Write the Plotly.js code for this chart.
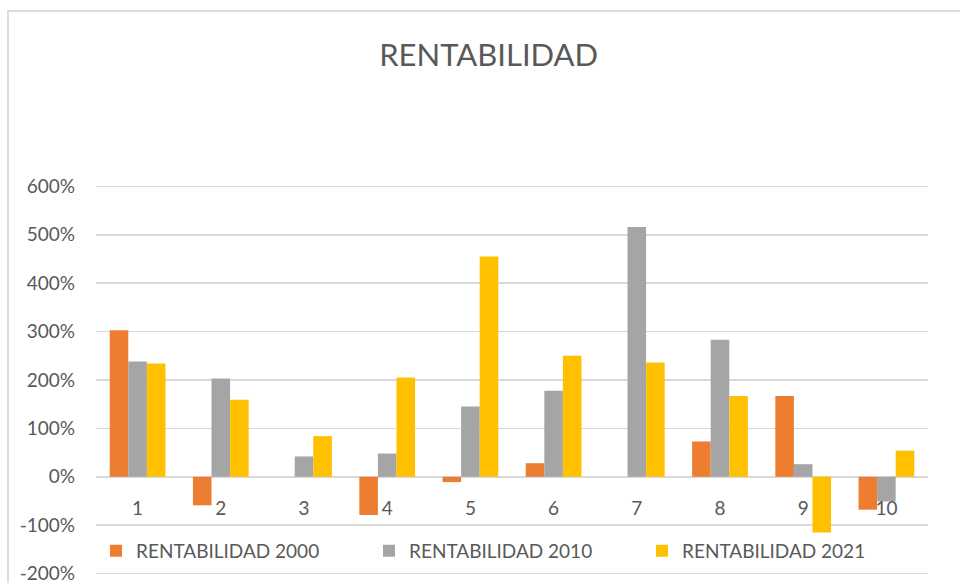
<!DOCTYPE html>
<html>
<head>
<meta charset="utf-8">
<script src="https://cdn.plot.ly/plotly-3.0.1.min.js"></script>
<style>
  html, body { margin: 0; padding: 0; background: #fff; overflow: hidden; width: 960px; height: 583px; }
  #frame { position: absolute; left: 7px; top: 10px; width: 980px; height: 600px; border: 2px solid #DCDCDC; box-sizing: border-box; }
  #chart { position: absolute; left: 0; top: 0; width: 960px; height: 583px; }
</style>
</head>
<body>
<div id="frame"></div>
<div id="chart"></div>
<script>
const categories = ['1', '2', '3', '4', '5', '6', '7', '8', '9', '10'];
const rent2000 = [3.03, -0.59, 0.0, -0.79, -0.11, 0.28, 0.0, 0.73, 1.67, -0.68];
const rent2010 = [2.38, 2.03, 0.42, 0.48, 1.45, 1.78, 5.16, 2.83, 0.26, -0.51];
const rent2021 = [2.34, 1.59, 0.84, 2.05, 4.55, 2.50, 2.36, 1.67, -1.15, 0.54];
const seriesNames = ['RENTABILIDAD 2000', 'RENTABILIDAD 2010', 'RENTABILIDAD 2021'];
const yTicks = [-2, -1, 0, 1, 2, 3, 4, 5, 6];
const yTickLabels = ['-200%', '-100%', '0%', '100%', '200%', '300%', '400%', '500%', '600%'];

const colors = ['#ED7D31', '#A5A5A5', '#FFC000'];
const txt = '#595959';
const fontFam = 'Lato, "Open Sans", sans-serif';

const data = [rent2000, rent2010, rent2021].map((vals, i) => ({
  type: 'bar',
  name: seriesNames[i],
  x: categories,
  y: vals,
  marker: { color: colors[i], line: { width: 0 } },
  hoverinfo: 'x+y+name'
}));

const yMin = -2.03, yMax = 6.03;

const layout = {
  width: 960,
  height: 583,
  paper_bgcolor: 'rgba(0,0,0,0)',
  plot_bgcolor: 'rgba(0,0,0,0)',
  margin: { l: 96, r: 32, t: 184.5, b: 7.5, autoexpand: false },
  title: {
    text: 'RENTABILIDAD',
    font: { family: fontFam, size: 31, color: txt },
    x: 0.509, xanchor: 'center',
    y: 0.905, yanchor: 'middle'
  },
  barmode: 'group',
  bargap: 0.33,
  bargroupgap: 0,
  font: { family: fontFam, color: txt, size: 19 },
  xaxis: {
    type: 'category',
    anchor: 'free',
    position: -yMin / (yMax - yMin),
    showgrid: false,
    showline: false,
    zeroline: false,
    ticks: '',
    ticklabelstandoff: 18,
    ticklabeloverflow: 'allow',
    tickfont: { family: fontFam, size: 19, color: txt }
  },
  yaxis: {
    range: [yMin, yMax],
    tickvals: yTicks,
    ticktext: yTickLabels,
    showgrid: true,
    gridcolor: '#D9D9D9',
    gridwidth: 1.5,
    zeroline: true,
    zerolinecolor: '#D9D9D9',
    zerolinewidth: 1.5,
    showline: false,
    ticks: '',
    ticklabelstandoff: 20,
    ticklabeloverflow: 'allow',
    tickfont: { family: fontFam, size: 19, color: txt }
  },
  legend: {
    orientation: 'h',
    x: 0, xanchor: 'left',
    y: 0.062, yanchor: 'middle',
    bgcolor: 'rgba(0,0,0,0)',
    font: { family: fontFam, size: 19, color: txt },
    entrywidth: 228,
    itemwidth: 30,
    traceorder: 'normal'
  },
  showlegend: true
};

Plotly.newPlot('chart', data, layout, { displayModeBar: false, staticPlot: true });
</script>
</body>
</html>
